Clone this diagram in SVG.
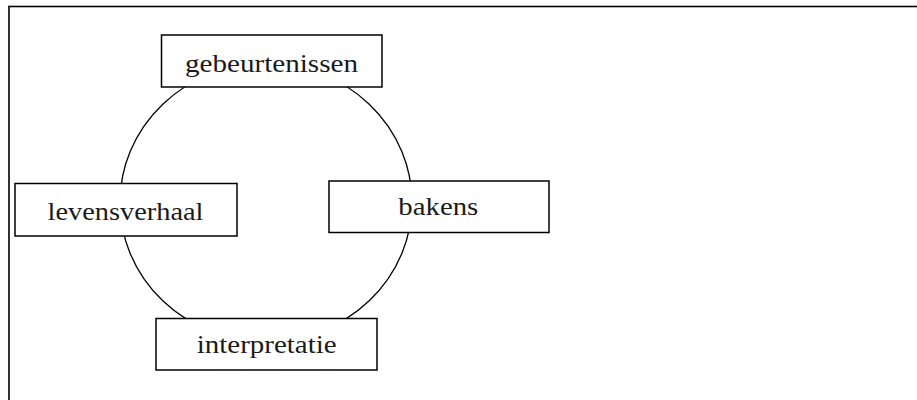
<svg xmlns="http://www.w3.org/2000/svg" width="917" height="400" viewBox="0 0 917 400">
<style>
.box{fill:#fff;stroke:#000;stroke-width:1.5}
.lbl{font-family:"Liberation Serif","Times New Roman",serif;font-size:25px;fill:#1a1a1a;text-anchor:middle}
.ring{fill:none;stroke:#000;stroke-width:1.3}
</style>
<rect x="0" y="0" width="917" height="400" fill="#fff"/>
<rect x="9" y="6.5" width="930" height="420" fill="none" stroke="#000" stroke-width="1.6"/>
<g id="connectors">
<ellipse class="ring" cx="266" cy="202.5" rx="146" ry="139"/>
</g>
<g id="gebeurtenissen">
<rect class="box" x="161.5" y="35" width="220.5" height="52"/>
<text class="lbl" x="271.5" y="71.5" textLength="173" lengthAdjust="spacingAndGlyphs">gebeurtenissen</text>
</g>
<g id="levensverhaal">
<rect class="box" x="15" y="183.5" width="222" height="52.5"/>
<text class="lbl" x="125.5" y="220" textLength="156" lengthAdjust="spacingAndGlyphs">levensverhaal</text>
</g>
<g id="bakens">
<rect class="box" x="329" y="181" width="220" height="51.5"/>
<text class="lbl" x="438.3" y="215" textLength="80" lengthAdjust="spacingAndGlyphs">bakens</text>
</g>
<g id="interpretatie">
<rect class="box" x="156" y="318.5" width="221" height="51.5"/>
<text class="lbl" x="266.7" y="353.3" textLength="140" lengthAdjust="spacingAndGlyphs">interpretatie</text>
</g>
</svg>
